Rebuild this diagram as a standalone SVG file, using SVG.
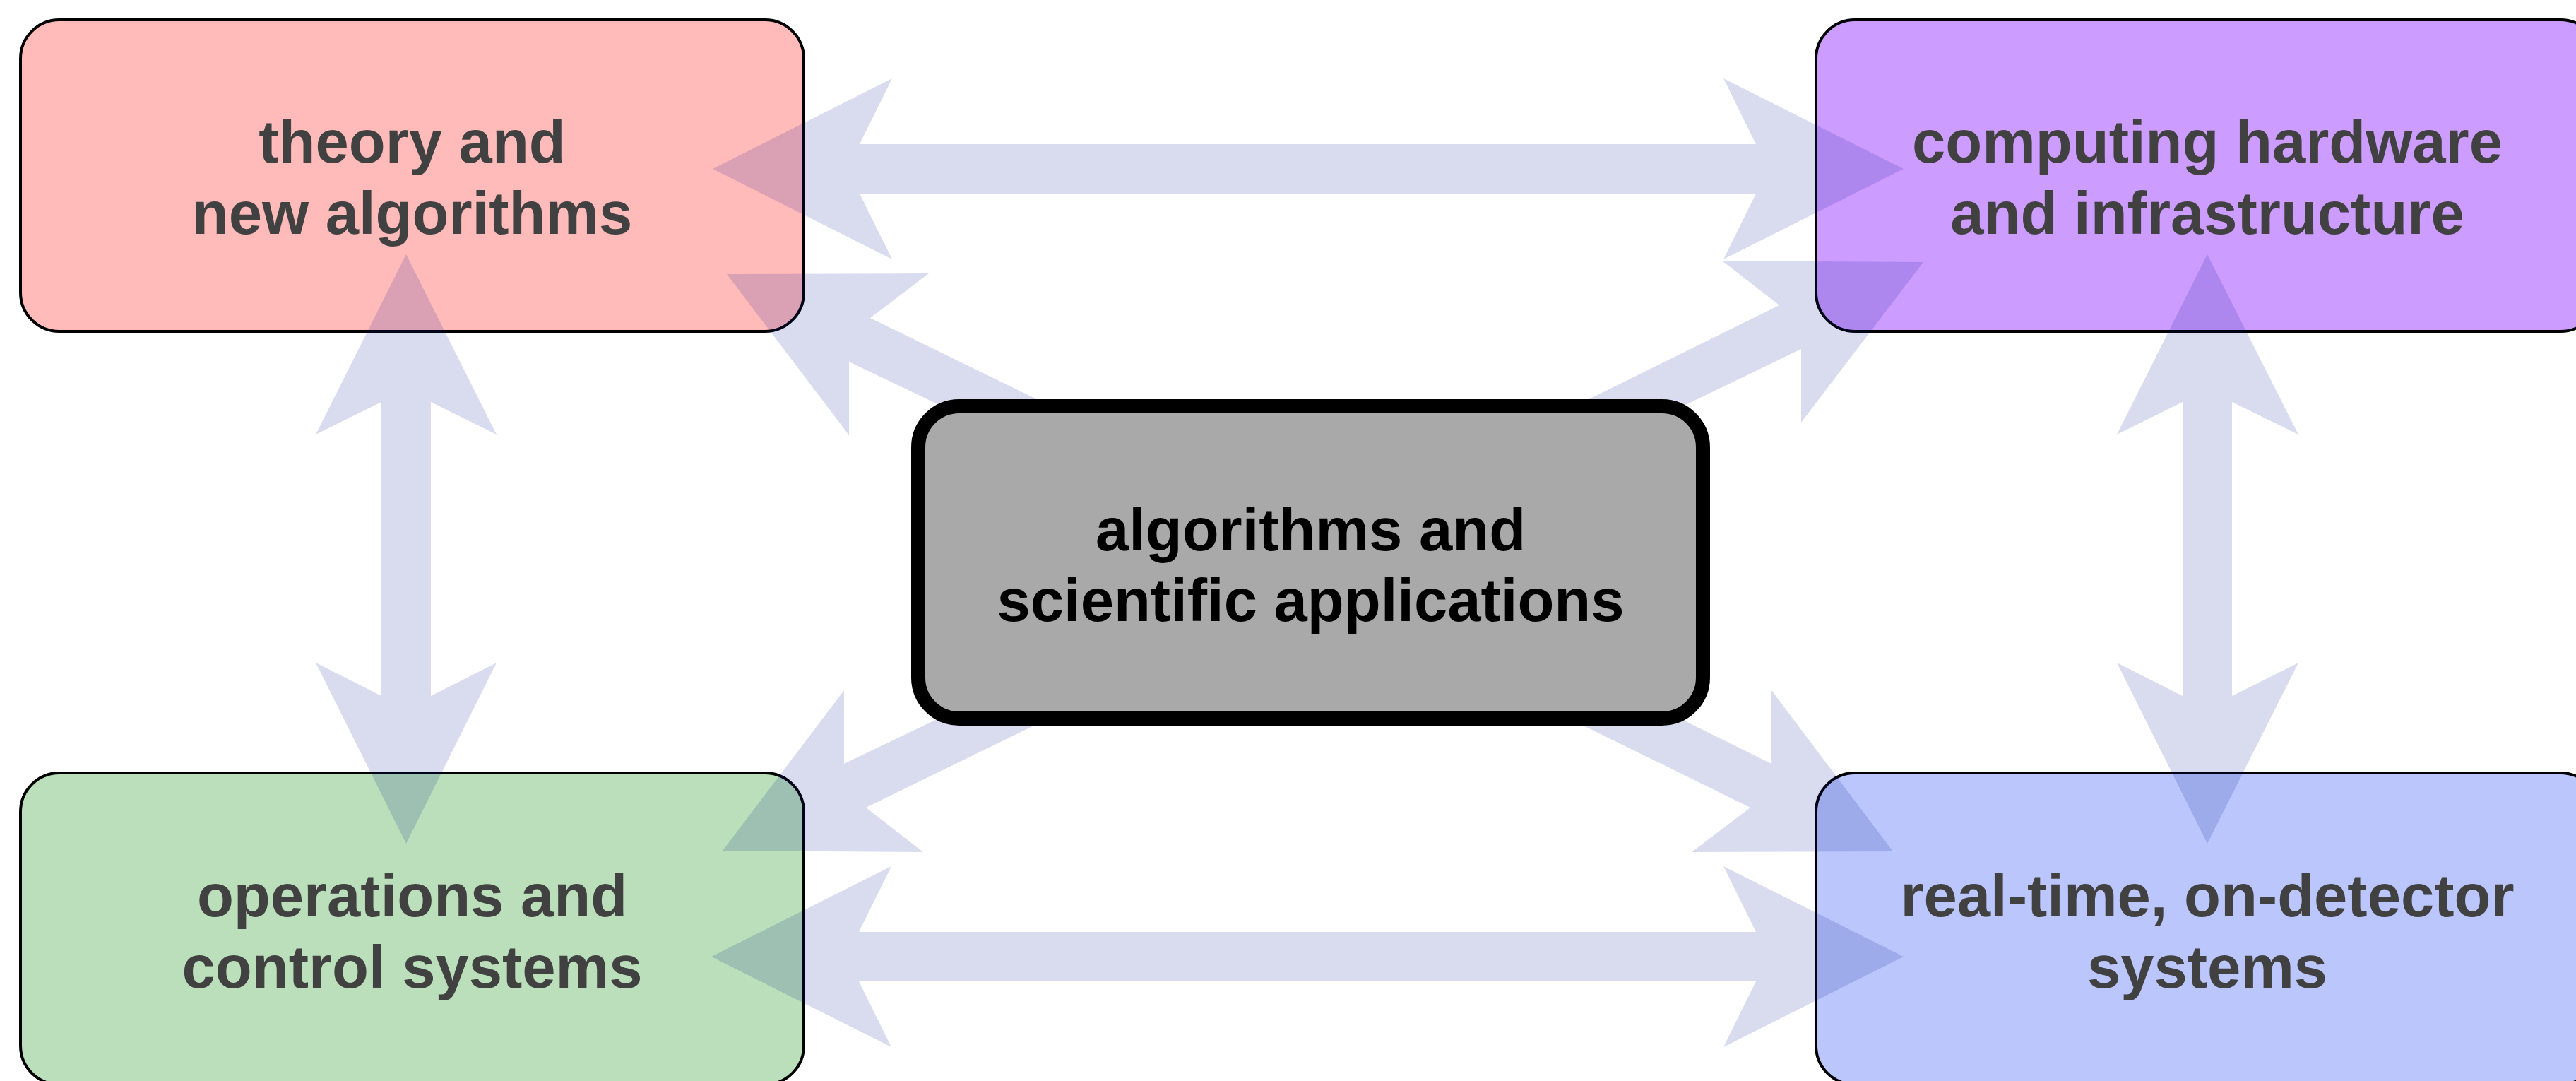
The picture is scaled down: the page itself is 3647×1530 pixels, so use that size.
<svg xmlns="http://www.w3.org/2000/svg" width="3647" height="1530" viewBox="0 0 3647 1530">
<style>
.box{stroke:#000;stroke-width:4}
.lbl{font-family:"Liberation Sans",Arial,Helvetica,sans-serif;font-weight:bold;font-size:85px;text-anchor:middle;fill:#414141}
.clbl{fill:#000}
.arr{fill:#02168e;fill-opacity:0.15;stroke:none}
</style>
<rect width="3647" height="1530" fill="#fff"/>
<g id="node-theory">
<rect class="box" x="29" y="28" width="1109" height="441" rx="55" ry="55" fill="#ffbaba"/>
<text class="lbl" x="583.5" y="230">theory and</text>
<text class="lbl" x="583.5" y="331">new algorithms</text>
</g>
<g id="node-hardware">
<rect class="box" x="2571" y="28" width="1109" height="441" rx="55" ry="55" fill="#cc9cff"/>
<text class="lbl" x="3125" y="230">computing hardware</text>
<text class="lbl" x="3125" y="331">and infrastructure</text>
</g>
<g id="node-operations">
<rect class="box" x="29" y="1094" width="1109" height="441" rx="55" ry="55" fill="#badfba"/>
<text class="lbl" x="583.5" y="1297">operations and</text>
<text class="lbl" x="583.5" y="1398">control systems</text>
</g>
<g id="node-realtime">
<rect class="box" x="2571" y="1094" width="1109" height="441" rx="55" ry="55" fill="#bac6fc"/>
<text class="lbl" x="3125" y="1297">real-time, on-detector</text>
<text class="lbl" x="3125" y="1398">systems</text>
</g>
<g id="connectors">
<polygon class="arr" points="1009,239 1263,111 1217,204 2486,204 2440,111 2695,239 2440,367 2486,274 1217,274 1263,367"/>
<polygon class="arr" points="1007,1354 1262,1226 1216,1319 2486,1319 2440,1226 2695,1354 2440,1482 2486,1389 1216,1389 1262,1482"/>
<polygon class="arr" points="575,360 703,615 610,569 610,985 703,938 575,1194 447,938 540,985 540,569 447,615"/>
<polygon class="arr" points="3125,360 3254,615 3160,569 3160,985 3254,938 3125,1194 2997,938 3090,985 3090,569 2997,615"/>
<polygon class="arr" points="1029,388 1315,387 1232,450 1560,610 1520,664 1202,512 1202,616"/>
<polygon class="arr" points="2723,371 2438,369 2519,432 2150,614 2190,668 2550,494 2550,598"/>
<polygon class="arr" points="1023,1204 1195,977 1195,1081 1520,925 1560,980 1226,1143 1307,1206"/>
<polygon class="arr" points="2680,1205 2508,977 2508,1081 2190,924 2150,982 2478,1143 2395,1206"/>
</g>
<g id="node-center">
<rect x="1300" y="575" width="1111" height="442" rx="58" ry="58" fill="#a9a9a9" stroke="#000" stroke-width="20"/>
<text class="lbl clbl" x="1855.5" y="779">algorithms and</text>
<text class="lbl clbl" x="1855.5" y="879">scientific applications</text>
</g>
</svg>
